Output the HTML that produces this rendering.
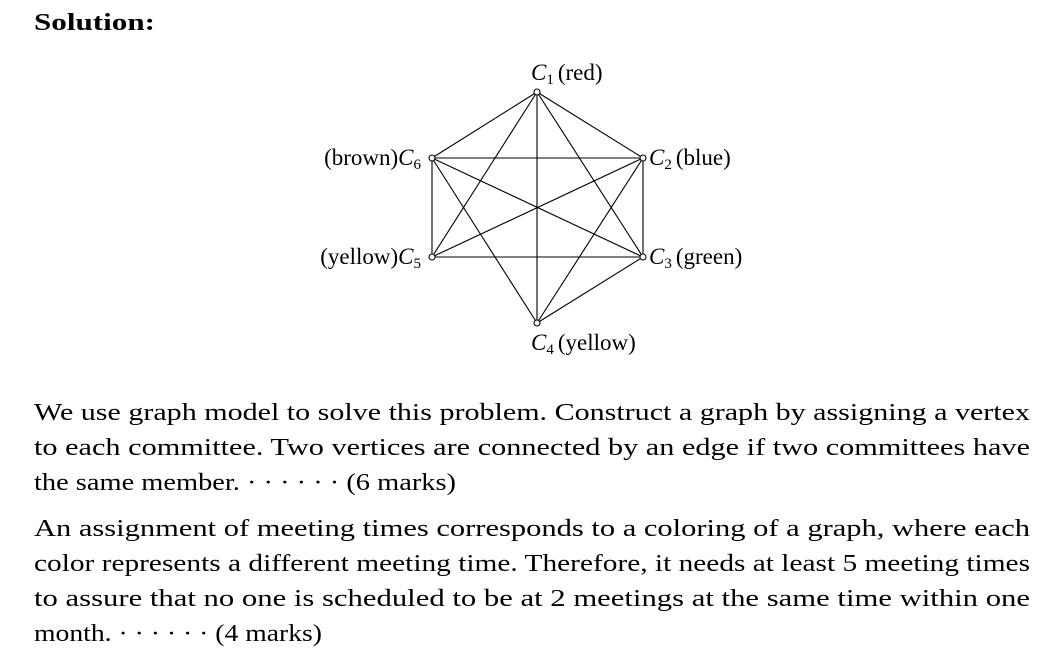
<!DOCTYPE html>
<html><head><style>body{margin:0;background:#fff}svg{display:block}</style></head><body>
<svg width="1053" height="661" viewBox="0 0 1053 661" xmlns="http://www.w3.org/2000/svg" font-family="Liberation Serif, serif" fill="#000">
<text x="34" y="30" font-size="24" font-weight="bold" textLength="121" lengthAdjust="spacingAndGlyphs">Solution:</text>
<g stroke="#000" stroke-width="1.1">
<line x1="537" y1="92" x2="643" y2="158"/>
<line x1="537" y1="92" x2="432" y2="158"/>
<line x1="537" y1="92" x2="432" y2="257"/>
<line x1="537" y1="92" x2="537" y2="323"/>
<line x1="537" y1="92" x2="643" y2="257"/>
<line x1="432" y1="158" x2="643" y2="158"/>
<line x1="432" y1="158" x2="432" y2="257"/>
<line x1="432" y1="158" x2="537" y2="323"/>
<line x1="432" y1="158" x2="643" y2="257"/>
<line x1="643" y1="158" x2="432" y2="257"/>
<line x1="643" y1="158" x2="643" y2="257"/>
<line x1="643" y1="158" x2="537" y2="323"/>
<line x1="432" y1="257" x2="643" y2="257"/>
<line x1="643" y1="257" x2="537" y2="323"/>
</g>
<g fill="#fff" stroke="#000" stroke-width="1.1">
<circle cx="537" cy="92" r="3"/><circle cx="643" cy="158" r="3"/><circle cx="643" cy="257" r="3"/>
<circle cx="537" cy="323" r="3"/><circle cx="432" cy="257" r="3"/><circle cx="432" cy="158" r="3"/>
</g>
<g font-size="23">
<text x="531" y="80"><tspan font-style="italic">C</tspan><tspan font-size="15" dy="4">1</tspan><tspan dy="-4" dx="4">(red)</tspan></text>
<text x="649" y="165"><tspan font-style="italic">C</tspan><tspan font-size="15" dy="4">2</tspan><tspan dy="-4" dx="4">(blue)</tspan></text>
<text x="649" y="264"><tspan font-style="italic">C</tspan><tspan font-size="15" dy="4">3</tspan><tspan dy="-4" dx="4">(green)</tspan></text>
<text x="531" y="350"><tspan font-style="italic">C</tspan><tspan font-size="15" dy="4">4</tspan><tspan dy="-4" dx="4">(yellow)</tspan></text>
<text x="421" y="264" text-anchor="end"><tspan>(yellow)</tspan><tspan font-style="italic">C</tspan><tspan font-size="15" dy="4">5</tspan></text>
<text x="421" y="165" text-anchor="end"><tspan>(brown)</tspan><tspan font-style="italic">C</tspan><tspan font-size="15" dy="4">6</tspan></text>
</g>
<g font-size="24">
<text x="34" y="420" textLength="996" lengthAdjust="spacingAndGlyphs">We use graph model to solve this problem. Construct a graph by assigning a vertex</text>
<text x="34" y="455" textLength="996" lengthAdjust="spacingAndGlyphs">to each committee. Two vertices are connected by an edge if two committees have</text>
<text x="34" y="490" textLength="422" lengthAdjust="spacingAndGlyphs">the same member. · · · · · · (6 marks)</text>
<text x="34" y="536" textLength="996" lengthAdjust="spacingAndGlyphs">An assignment of meeting times corresponds to a coloring of a graph, where each</text>
<text x="34" y="571" textLength="996" lengthAdjust="spacingAndGlyphs">color represents a different meeting time. Therefore, it needs at least 5 meeting times</text>
<text x="34" y="606" textLength="996" lengthAdjust="spacingAndGlyphs">to assure that no one is scheduled to be at 2 meetings at the same time within one</text>
<text x="34" y="641" textLength="288" lengthAdjust="spacingAndGlyphs">month. · · · · · · (4 marks)</text>
</g>
</svg>
</body></html>
